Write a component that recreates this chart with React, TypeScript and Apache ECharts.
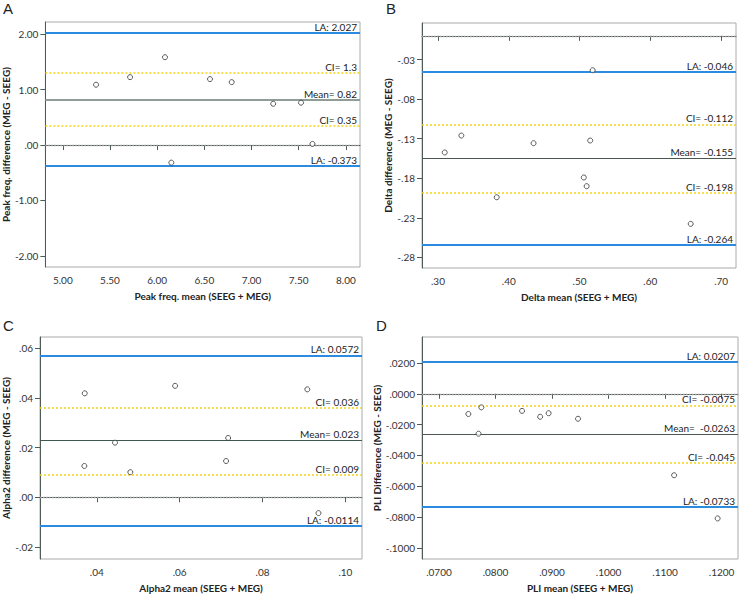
import React, { useEffect, useRef } from "react";
import * as echarts from "echarts";

// Panel A: Peak frequency
const A_X = [5.352, 5.713, 6.083, 6.56, 6.79, 7.23, 7.525, 7.646, 6.15];
const A_Y = [1.088, 1.225, 1.585, 1.19, 1.135, 0.745, 0.764, 0.02, -0.317];
const A_XTICKS = [5, 5.5, 6, 6.5, 7, 7.5, 8];
const A_YTICKS = [-2, -1, 0, 1, 2];
const A_LINES = [
  { kind: "LA", value: 2.027, label: "LA: 2.027" },
  { kind: "CI", value: 1.3, label: "CI= 1.3" },
  { kind: "MEAN", value: 0.82, label: "Mean= 0.82" },
  { kind: "CI", value: 0.35, label: "CI= 0.35" },
  { kind: "ZERO", value: 0, label: "" },
  { kind: "LA", value: -0.373, label: "LA: -0.373" },
];

// Panel B: Delta
const B_X = [0.5185, 0.333, 0.435, 0.515, 0.3095, 0.506, 0.51, 0.383, 0.657];
const B_Y = [-0.0435, -0.126, -0.1357, -0.1323, -0.1474, -0.179, -0.19, -0.204, -0.2376];
const B_XTICKS = [0.3, 0.4, 0.5, 0.6, 0.7];
const B_YTICKS = [-0.28, -0.23, -0.18, -0.13, -0.08, -0.03];
const B_LINES = [
  { kind: "ZERO", value: 0, label: "" },
  { kind: "LA", value: -0.046, label: "LA: -0.046" },
  { kind: "CI", value: -0.112, label: "CI= -0.112" },
  { kind: "MEAN", value: -0.155, label: "Mean= -0.155" },
  { kind: "CI", value: -0.198, label: "CI= -0.198" },
  { kind: "LA", value: -0.264, label: "LA: -0.264" },
];

// Panel C: Alpha2
const C_X = [0.0371, 0.0589, 0.0908, 0.0444, 0.0717, 0.037, 0.0481, 0.0712, 0.0935];
const C_Y = [0.0419, 0.0449, 0.0435, 0.022, 0.0239, 0.0126, 0.0101, 0.0146, -0.0064];
const C_XTICKS = [0.04, 0.06, 0.08, 0.1];
const C_YTICKS = [-0.02, 0, 0.02, 0.04, 0.06];
const C_LINES = [
  { kind: "LA", value: 0.0572, label: "LA: 0.0572" },
  { kind: "CI", value: 0.036, label: "CI= 0.036" },
  { kind: "MEAN", value: 0.023, label: "Mean= 0.023" },
  { kind: "CI", value: 0.009, label: "CI= 0.009" },
  { kind: "ZERO", value: 0, label: "" },
  { kind: "LA", value: -0.0114, label: "LA: -0.0114" },
];

// Panel D: PLI
const D_X = [0.0752, 0.0775, 0.077, 0.0847, 0.0879, 0.0894, 0.0946, 0.1116, 0.1193];
const D_Y = [-0.0131, -0.0088, -0.0259, -0.0111, -0.0149, -0.0126, -0.0162, -0.0528, -0.0808];
const D_XTICKS = [0.07, 0.08, 0.09, 0.1, 0.11, 0.12];
const D_YTICKS = [-0.1, -0.08, -0.06, -0.04, -0.02, 0, 0.02];
const D_LINES = [
  { kind: "LA", value: 0.0207, label: "LA: 0.0207" },
  { kind: "ZERO", value: 0, label: "" },
  { kind: "CI", value: -0.0075, label: "CI= -0.0075" },
  { kind: "MEAN", value: -0.0263, label: "Mean=  -0.0263" },
  { kind: "CI", value: -0.045, label: "CI= -0.045" },
  { kind: "LA", value: -0.0733, label: "LA: -0.0733" },
];

const FONT = "Lato";
const AXIS_DARK = "#4e5b56";

function fmt(v: number, d: number): string {
  let s = Math.abs(v).toFixed(d);
  if (s.startsWith("0")) s = s.slice(1);
  return (v < -1e-12 ? "-" : "") + s;
}

type Panel = {
  letter: string;
  letterPos: [number, number];
  grid: { left: number; top: number; width: number; height: number };
  xs: number[];
  ys: number[];
  xRange: [number, number];
  yRange: [number, number];
  xTicks: number[];
  yTicks: number[];
  xDec: number;
  yDec: number;
  xName: string;
  yName: string;
  yNameGap: number;
  lines: { kind: string; value: number; label: string }[];
  meanStyle: { color: string; width: number };
};

const panels: Panel[] = [
  {
    letter: "A",
    letterPos: [3, 1],
    grid: { left: 44, top: 22, width: 316, height: 245 },
    xs: A_X, ys: A_Y,
    xRange: [4.815, 8.15], yRange: [-2.2, 2.22],
    xTicks: A_XTICKS, yTicks: A_YTICKS, xDec: 2, yDec: 2,
    xName: "Peak freq. mean (SEEG + MEG)",
    yName: "Peak freq. difference (MEG - SEEG)",
    yNameGap: 31,
    lines: A_LINES,
    meanStyle: { color: "#8e9d95", width: 2 },
  },
  {
    letter: "B",
    letterPos: [386, 1],
    grid: { left: 422, top: 23, width: 314, height: 245 },
    xs: B_X, ys: B_Y,
    xRange: [0.2774, 0.721], yRange: [-0.2934, 0.0162],
    xTicks: B_XTICKS, yTicks: B_YTICKS, xDec: 2, yDec: 2,
    xName: "Delta mean (SEEG + MEG)",
    yName: "Delta difference (MEG - SEEG)",
    yNameGap: 24,
    lines: B_LINES,
    meanStyle: { color: "#4a5650", width: 1 },
  },
  {
    letter: "C",
    letterPos: [3, 318],
    grid: { left: 40, top: 337, width: 322, height: 226 },
    xs: C_X, ys: C_Y,
    xRange: [0.0263, 0.104], yRange: [-0.0249, 0.0646],
    xTicks: C_XTICKS, yTicks: C_YTICKS, xDec: 2, yDec: 2,
    xName: "Alpha2 mean (SEEG + MEG)",
    yName: "Alpha2 difference (MEG - SEEG)",
    yNameGap: 27,
    lines: C_LINES,
    meanStyle: { color: "#3f5a4c", width: 1 },
  },
  {
    letter: "D",
    letterPos: [376, 318],
    grid: { left: 422, top: 337, width: 316, height: 228 },
    xs: D_X, ys: D_Y,
    xRange: [0.067, 0.1229], yRange: [-0.1071, 0.0368],
    xTicks: D_XTICKS, yTicks: D_YTICKS, xDec: 4, yDec: 4,
    xName: "PLI mean (SEEG + MEG)",
    yName: "PLI Difference (MEG - SEEG)",
    yNameGap: 37,
    lines: D_LINES,
    meanStyle: { color: "#4d5752", width: 1 },
  },
];

function lineStyleFor(kind: string, mean: { color: string; width: number }) {
  if (kind === "LA") return { color: "#2b8be0", width: 2, type: "solid" };
  if (kind === "CI") return { color: "#f4d21a", width: 1.5, type: [2, 2] };
  if (kind === "MEAN") return { color: mean.color, width: mean.width, type: "solid" };
  return { color: "#a3a3a3", width: 1.3, type: [1.5, 1.5] };
}

function buildOption() {
  const grids: any[] = [];
  const xAxes: any[] = [];
  const yAxes: any[] = [];
  const series: any[] = [];
  const graphics: any[] = [];

  panels.forEach((p, i) => {
    grids.push({
      ...p.grid,
      show: true,
      borderColor: "#a7aca9",
      borderWidth: 1,
      backgroundColor: "transparent",
      containLabel: false,
    });
    xAxes.push({
      type: "value",
      gridIndex: i,
      min: p.xRange[0],
      max: p.xRange[1],
      name: p.xName,
      nameLocation: "middle",
      nameGap: 24,
      nameTextStyle: { fontFamily: FONT, fontWeight: "bold", fontSize: 10, color: "#222" },
      axisLine: { show: true, lineStyle: { color: AXIS_DARK, width: 1 } },
      axisTick: { show: true, length: 5, lineStyle: { color: AXIS_DARK }, customValues: p.xTicks },
      axisLabel: {
        show: true,
        margin: 8,
        fontFamily: FONT,
        fontSize: 10,
        color: "#333",
        customValues: p.xTicks,
        formatter: (v: number) => fmt(v, p.xDec),
      },
      splitLine: { show: false },
    });
    yAxes.push({
      type: "value",
      gridIndex: i,
      min: p.yRange[0],
      max: p.yRange[1],
      name: p.yName,
      nameLocation: "middle",
      nameGap: p.yNameGap,
      nameRotate: 90,
      nameTextStyle: { fontFamily: FONT, fontWeight: "bold", fontSize: 10, color: "#222" },
      axisLine: { show: true, lineStyle: { color: AXIS_DARK, width: 1 } },
      axisTick: { show: true, length: 5, lineStyle: { color: AXIS_DARK }, customValues: p.yTicks },
      axisLabel: {
        show: true,
        margin: 7,
        fontFamily: FONT,
        fontSize: 10,
        color: "#333",
        customValues: p.yTicks,
        formatter: (v: number) => fmt(v, p.yDec),
      },
      splitLine: { show: false },
    });
    series.push({
      type: "scatter",
      xAxisIndex: i,
      yAxisIndex: i,
      data: p.xs.map((x, k) => [x, p.ys[k]]),
      symbol: "circle",
      symbolSize: 5,
      itemStyle: { color: "#ffffff", borderColor: "#333", borderWidth: 1 },
      z: 5,
      markLine: {
        silent: true,
        symbol: ["none", "none"],
        precision: 6,
        animation: false,
        z: 3,
        data: p.lines.map((l) => ({
          yAxis: l.value,
          lineStyle: lineStyleFor(l.kind, p.meanStyle),
          label: {
            show: l.label !== "",
            formatter: l.label,
            position: "insideEndTop",
            distance: [3, 1],
            fontFamily: FONT,
            fontSize: 10,
            color: "#222",
          },
        })),
      },
    });
    graphics.push({
      type: "text",
      left: p.letterPos[0],
      top: p.letterPos[1],
      style: { text: p.letter, fontFamily: "Liberation Sans", fontSize: 15, fill: "#222" },
    });
  });

  return {
    animation: false,
    backgroundColor: "#ffffff",
    grid: grids,
    xAxis: xAxes,
    yAxis: yAxes,
    series,
    graphic: graphics,
  };
}

export default function App() {
  const ref = useRef<HTMLDivElement>(null);
  useEffect(() => {
    if (!ref.current) return;
    const chart = echarts.init(ref.current, undefined, { renderer: "svg" });
    chart.setOption(buildOption() as any);
    return () => chart.dispose();
  }, []);
  return (
    <div
      ref={ref}
      style={{ position: "absolute", left: 0, top: 0, width: 740, height: 594 }}
    />
  );
}
